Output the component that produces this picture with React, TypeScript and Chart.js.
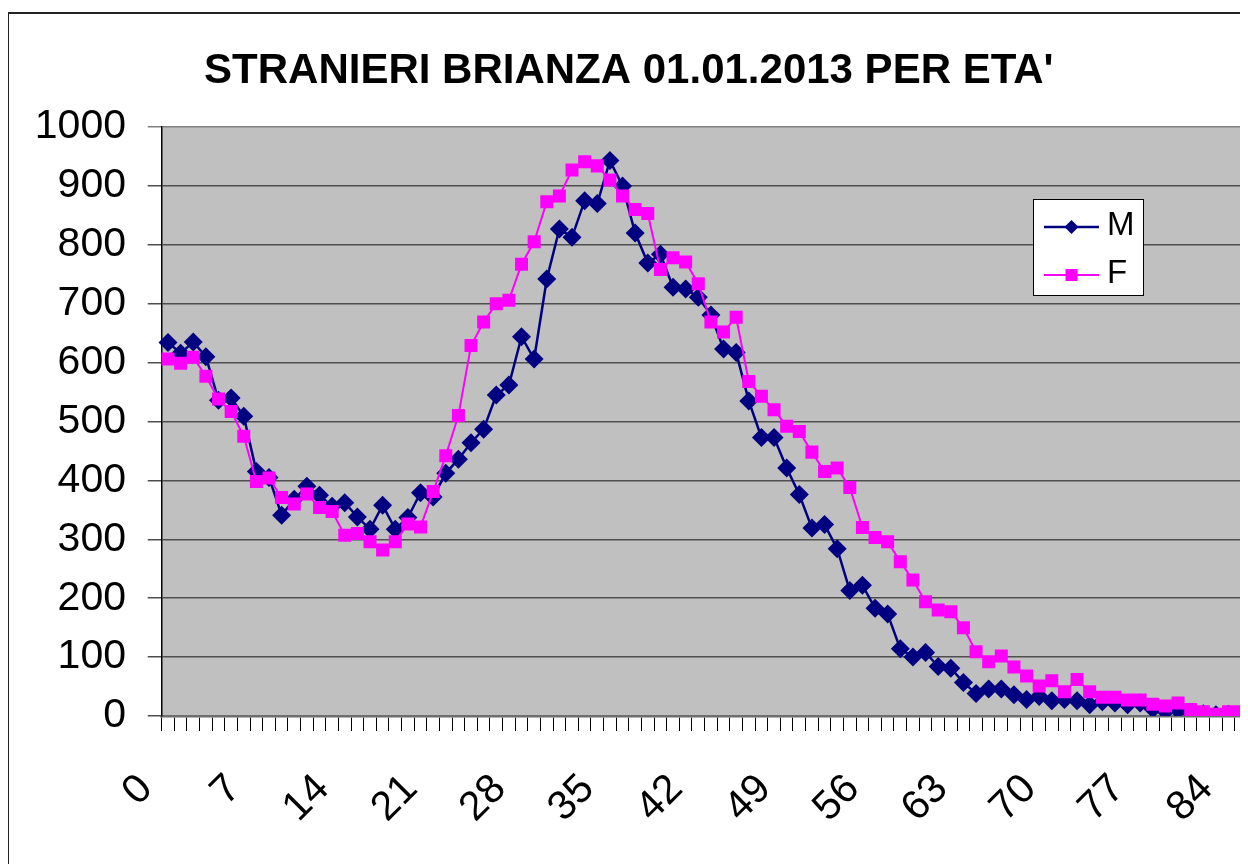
import { useEffect, useRef } from "react";
import { Chart, registerables } from "chart.js";

Chart.register(...registerables);

const TITLE = "STRANIERI BRIANZA 01.01.2013 PER ETA'";

const AGES = [
  "0", "1", "2", "3", "4", "5", "6", "7", "8", "9",
  "10", "11", "12", "13", "14", "15", "16", "17", "18", "19",
  "20", "21", "22", "23", "24", "25", "26", "27", "28", "29",
  "30", "31", "32", "33", "34", "35", "36", "37", "38", "39",
  "40", "41", "42", "43", "44", "45", "46", "47", "48", "49",
  "50", "51", "52", "53", "54", "55", "56", "57", "58", "59",
  "60", "61", "62", "63", "64", "65", "66", "67", "68", "69",
  "70", "71", "72", "73", "74", "75", "76", "77", "78", "79",
  "80", "81", "82", "83", "84", "85",
];

const SHOWN_LABELS = ["0", "7", "14", "21", "28", "35", "42", "49", "56", "63", "70", "77", "84"];

const MALES = [
  634, 616, 635, 610, 536, 540, 509, 415, 405, 341,
  368, 390, 375, 356, 362, 338, 317, 358, 317, 337,
  379, 372, 412, 436, 464, 487, 545, 562, 644, 606,
  742, 827, 813, 875, 870, 943, 900, 820, 769, 784,
  728, 725, 711, 681, 623, 617, 535, 473, 473, 421,
  376, 319, 325, 284, 213, 222, 183, 173, 114, 100,
  108, 84, 81, 57, 38, 46, 46, 36, 28, 33,
  26, 28, 26, 19, 24, 22, 19, 22, 12, 8,
  10, 5, 4, 2, 3, 2,
];

const FEMALES = [
  606, 599, 609, 577, 538, 517, 475, 398, 404, 371,
  360, 377, 354, 347, 307, 310, 296, 282, 296, 326,
  321, 381, 442, 510, 629, 669, 700, 706, 767, 805,
  873, 883, 927, 941, 934, 910, 883, 860, 853, 758,
  778, 771, 734, 669, 652, 677, 568, 543, 520, 492,
  483, 448, 415, 421, 388, 320, 303, 296, 262, 231,
  194, 180, 177, 150, 109, 92, 102, 83, 68, 51,
  60, 41, 62, 41, 32, 32, 27, 27, 20, 17,
  22, 11, 7, 3, 7, 7,
];

const FONT = "'Liberation Sans', Arial, sans-serif";
const M_COLOR = "#000080";
const F_COLOR = "#FF00FF";

const backgroundPlugin = {
  id: "bgFrame",
  beforeDraw(chart: any) {
    const { ctx, chartArea, width, height } = chart;
    ctx.save();
    ctx.fillStyle = "#ffffff";
    ctx.fillRect(0, 0, width, height);
    ctx.strokeStyle = "#222222";
    ctx.lineWidth = 2;
    ctx.strokeRect(0, 5, width + 20, height + 20);
    ctx.fillStyle = "#C0C0C0";
    ctx.fillRect(chartArea.left, chartArea.top, chartArea.right - chartArea.left, chartArea.bottom - chartArea.top);
    ctx.restore();
  },
};

const legendPlugin = {
  id: "boxLegend",
  afterDraw(chart: any) {
    const ctx = chart.ctx;
    const x0 = 1025, y0 = 191, w = 110, h = 96;
    ctx.save();
    ctx.fillStyle = "#ffffff";
    ctx.fillRect(x0, y0, w, h);
    ctx.strokeStyle = "#000000";
    ctx.lineWidth = 1;
    ctx.strokeRect(x0 + 0.5, y0 + 0.5, w, h);
    const items = [
      { label: "M", color: M_COLOR, y: 219, style: "rectRot", r: 7, lw: 2.5 },
      { label: "F", color: F_COLOR, y: 267, style: "rect", r: 8.5, lw: 2 },
    ];
    for (const it of items) {
      ctx.strokeStyle = it.color;
      ctx.lineWidth = it.lw;
      ctx.beginPath();
      ctx.moveTo(x0 + 11, it.y);
      ctx.lineTo(x0 + 66, it.y);
      ctx.stroke();
      ctx.fillStyle = it.color;
      if (it.style === "rectRot") {
        ctx.beginPath();
        ctx.moveTo(x0 + 38.5, it.y - it.r);
        ctx.lineTo(x0 + 38.5 + it.r, it.y);
        ctx.lineTo(x0 + 38.5, it.y + it.r);
        ctx.lineTo(x0 + 38.5 - it.r, it.y);
        ctx.closePath();
        ctx.fill();
      } else {
        ctx.fillRect(x0 + 38.5 - 6, it.y - 6, 12, 12);
      }
      ctx.fillStyle = "#000000";
      ctx.font = `33px ${FONT}`;
      ctx.textBaseline = "middle";
      ctx.textAlign = "left";
      ctx.fillText(it.label, x0 + 74, it.y - 1);
    }
    ctx.restore();
  },
};

export default function App() {
  const ref = useRef<HTMLCanvasElement | null>(null);

  useEffect(() => {
    if (!ref.current) return;
    const chart = new Chart(ref.current, {
      type: "line",
      data: {
        labels: AGES,
        datasets: [
          {
            label: "M",
            data: MALES,
            borderColor: M_COLOR,
            backgroundColor: M_COLOR,
            pointStyle: "rectRot",
            pointRadius: 9.5,
            pointBorderWidth: 0,
            pointBackgroundColor: M_COLOR,
            borderWidth: 2.5,
            tension: 0,
            order: 1,
          },
          {
            label: "F",
            data: FEMALES,
            borderColor: F_COLOR,
            backgroundColor: F_COLOR,
            pointStyle: "rect",
            pointRadius: 9.2,
            pointBorderWidth: 0,
            pointBackgroundColor: F_COLOR,
            borderWidth: 2,
            tension: 0,
            order: 0,
          },
        ],
      },
      options: {
        responsive: false,
        animation: false,
        devicePixelRatio: 1,
        layout: { padding: { left: 0, right: 7.4, top: 38, bottom: 0 } },
        plugins: {
          legend: { display: false },
          tooltip: { enabled: false },
          title: {
            display: true,
            text: TITLE,
            color: "#000000",
            font: { family: FONT, size: 42, weight: "bold" },
            padding: { top: 0, bottom: 30.6 },
          },
        },
        scales: {
          x: {
            type: "category",
            offset: true,
            grid: {
              offset: true,
              drawOnChartArea: false,
              color: "#000000",
              lineWidth: 1,
              tickLength: 15,
            },
            border: { color: "#6e6e6e", width: 2.5 },
            ticks: {
              autoSkip: false,
              minRotation: 45,
              maxRotation: 45,
              padding: 34,
              labelOffset: -22,
              color: "#000000",
              font: { family: FONT, size: 41 },
              callback: (_v: any, i: number) => (SHOWN_LABELS.includes(AGES[i]) ? AGES[i] : ""),
            },
            afterFit: (s: any) => {
              s.height = 148;
              s.paddingLeft = 0;
              s.paddingRight = 0;
            },
          },
          y: {
            min: 0,
            max: 1000,
            ticks: {
              stepSize: 100,
              padding: 21.7,
              color: "#000000",
              font: { family: FONT, size: 41 },
              callback: (v: any) => String(v),
            },
            grid: {
              color: (c: any) => (c.tick && c.tick.value === 1000 ? "#808080" : "#4f4f4f"),
              lineWidth: 1.5,
              tickLength: 14,
            },
            border: { color: "#000000", width: 1.5 },
            afterFit: (s: any) => {
              s.width = 153.7;
            },
          },
        },
      },
      plugins: [backgroundPlugin, legendPlugin],
    } as any);
    return () => chart.destroy();
  }, []);

  return (
    <div style={{ width: 1240, height: 856, overflow: "hidden" }}>
      <canvas ref={ref} width={1249} height={856} style={{ display: "block", width: 1249, height: 856 }} />
    </div>
  );
}
